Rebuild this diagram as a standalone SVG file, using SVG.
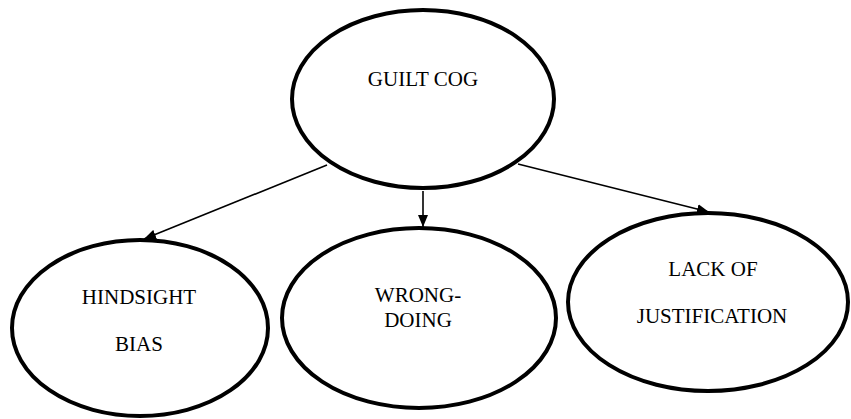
<svg xmlns="http://www.w3.org/2000/svg" width="851" height="419" viewBox="0 0 851 419">
  <style>
    .node ellipse { fill: #ffffff; stroke: #000000; stroke-width: 4; }
    .node text { font-size: 21px; fill: #000000; text-anchor: middle; }
    .edge { stroke: #000000; stroke-width: 1.6; fill: none; marker-end: url(#arrow); }
  </style>
  <defs>
    <marker id="arrow" viewBox="0 0 12 10" refX="12" refY="5" markerWidth="12" markerHeight="10" markerUnits="userSpaceOnUse" orient="auto">
      <path d="M0,0 L12,5 L0,10 Z" fill="#000000"/>
    </marker>
  </defs>

  <g id="connectors">
    <line class="edge" x1="327" y1="165" x2="144" y2="239"/>
    <line class="edge" x1="423" y1="191" x2="423" y2="227"/>
    <line class="edge" x1="518" y1="164" x2="709" y2="212"/>
  </g>

  <g font-family="'Liberation Serif', 'Times New Roman', 'DejaVu Serif', serif">
    <g id="guilt-cog" class="node">
      <ellipse cx="423" cy="99" rx="131" ry="89"/>
      <text x="423" y="86">GUILT COG</text>
    </g>

    <g id="hindsight-bias" class="node">
      <ellipse cx="140" cy="328" rx="128" ry="88"/>
      <text x="139" y="304">HINDSIGHT</text>
      <text x="139" y="351">BIAS</text>
    </g>

    <g id="wrong-doing" class="node">
      <ellipse cx="419" cy="318" rx="137" ry="90"/>
      <text x="418" y="302">WRONG-</text>
      <text x="418" y="327">DOING</text>
    </g>

    <g id="lack-of-justification" class="node">
      <ellipse cx="708" cy="302" rx="140" ry="89"/>
      <text x="713" y="276">LACK OF</text>
      <text x="712" y="323">JUSTIFICATION</text>
    </g>
  </g>
</svg>
